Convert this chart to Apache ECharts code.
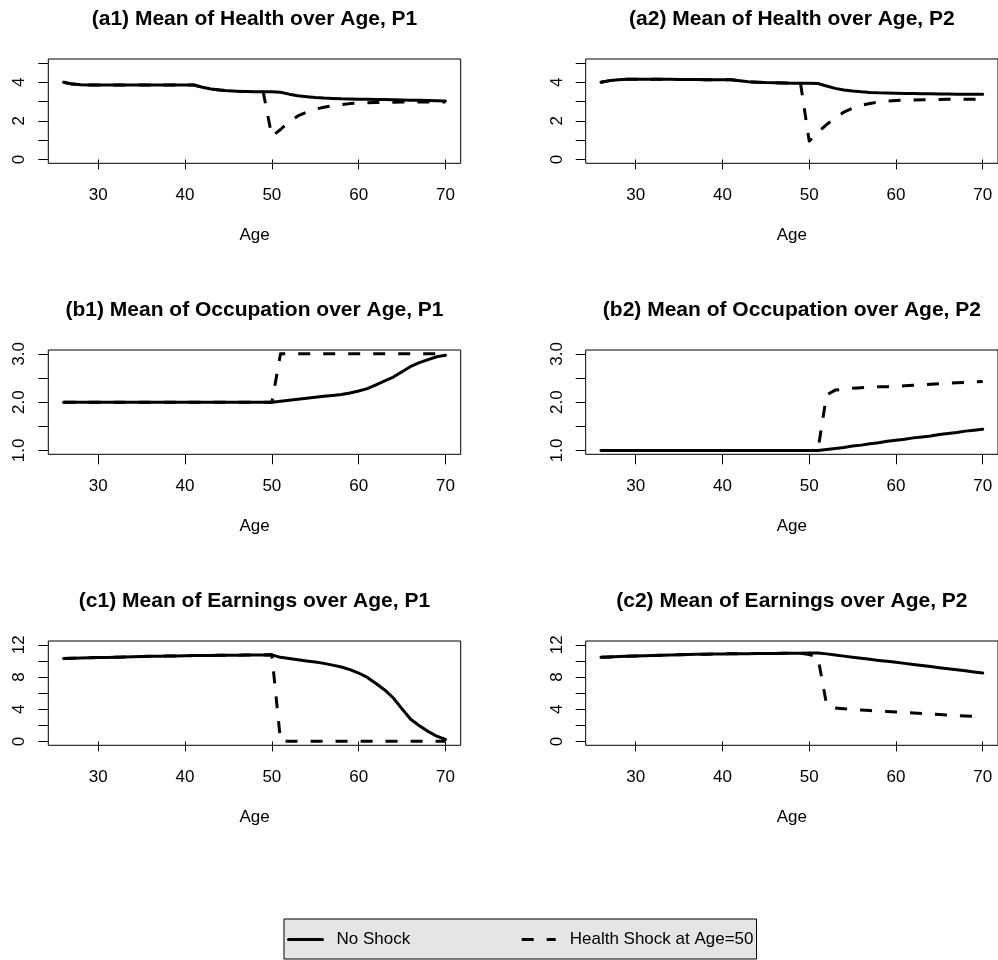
<!DOCTYPE html>
<html>
<head>
<meta charset="utf-8">
<script src="https://cdn.jsdelivr.net/npm/echarts@6/dist/echarts.min.js"></script>
<style>
  html, body { margin: 0; padding: 0; background: #fff; }
  #chart { width: 998px; height: 960px; }
</style>
</head>
<body>
<div id="chart"></div>
<script>
// Age grid shared by every panel
const ages = [26, 27, 28, 29, 30, 31, 32, 33, 34, 35, 36, 37, 38, 39, 40, 41, 42, 43, 44, 45, 46, 47, 48,
  49, 50, 51, 52, 53, 54, 55, 56, 57, 58, 59, 60, 61, 62, 63, 64, 65, 66, 67, 68, 69, 70];

// (a) Mean of health
const healthP1NoShock = [4.00, 3.90, 3.87, 3.86, 3.85, 3.85, 3.85, 3.85, 3.85, 3.85, 3.85, 3.85, 3.85, 3.85, 3.85, 3.85,
  3.74, 3.65, 3.59, 3.55, 3.53, 3.52, 3.51, 3.50, 3.50, 3.48, 3.38, 3.30, 3.25, 3.21, 3.18, 3.16, 3.14, 3.13, 3.12,
  3.11, 3.10, 3.10, 3.09, 3.08, 3.07, 3.06, 3.05, 3.04, 3.03];
const healthP1Shock = [4.00, 3.90, 3.87, 3.86, 3.85, 3.85, 3.85, 3.85, 3.85, 3.85, 3.85, 3.85, 3.85, 3.85, 3.85, 3.85,
  3.74, 3.65, 3.59, 3.55, 3.53, 3.52, 3.51, 3.50, 1.20, 1.55, 1.95, 2.25, 2.45, 2.60, 2.70, 2.78, 2.84, 2.89, 2.92,
  2.94, 2.95, 2.96, 2.96, 2.97, 2.97, 2.97, 2.98, 2.98, 2.98];
const healthP2NoShock = [4.00, 4.08, 4.13, 4.15, 4.15, 4.15, 4.15, 4.15, 4.15, 4.14, 4.14, 4.14, 4.13, 4.13, 4.13, 4.12,
  4.07, 4.02, 4.00, 3.98, 3.97, 3.96, 3.95, 3.94, 3.94, 3.93, 3.80, 3.68, 3.60, 3.54, 3.50, 3.47, 3.45, 3.44, 3.43,
  3.42, 3.41, 3.40, 3.40, 3.39, 3.39, 3.38, 3.38, 3.37, 3.37];
const healthP2Shock = [4.00, 4.08, 4.13, 4.15, 4.15, 4.15, 4.15, 4.15, 4.15, 4.14, 4.14, 4.14, 4.13, 4.13, 4.13, 4.12,
  4.07, 4.02, 4.00, 3.98, 3.97, 3.96, 3.95, 3.94, 0.95, 1.40, 1.80, 2.15, 2.45, 2.65, 2.80, 2.90, 2.97, 3.02, 3.05,
  3.07, 3.08, 3.09, 3.10, 3.10, 3.11, 3.11, 3.12, 3.12, 3.12];

// (b) Mean of occupation
const occupationP1NoShock = [2.00, 2.00, 2.00, 2.00, 2.00, 2.00, 2.00, 2.00, 2.00, 2.00, 2.00, 2.00, 2.00, 2.00, 2.00,
  2.00, 2.00, 2.00, 2.00, 2.00, 2.00, 2.00, 2.00, 2.00, 2.00, 2.02, 2.04, 2.06, 2.08, 2.10, 2.12, 2.14, 2.16, 2.19,
  2.23, 2.28, 2.36, 2.44, 2.52, 2.63, 2.74, 2.82, 2.88, 2.94, 2.97];
const occupationP1Shock = [2.00, 2.00, 2.00, 2.00, 2.00, 2.00, 2.00, 2.00, 2.00, 2.00, 2.00, 2.00, 2.00, 2.00, 2.00,
  2.00, 2.00, 2.00, 2.00, 2.00, 2.00, 2.00, 2.00, 2.00, 2.00, 3.00, 3.00, 3.00, 3.00, 3.00, 3.00, 3.00, 3.00, 3.00,
  3.00, 3.00, 3.00, 3.00, 3.00, 3.00, 3.00, 3.00, 3.00, 3.00, 3.00];
const occupationP2NoShock = [1.00, 1.00, 1.00, 1.00, 1.00, 1.00, 1.00, 1.00, 1.00, 1.00, 1.00, 1.00, 1.00, 1.00, 1.00,
  1.00, 1.00, 1.00, 1.00, 1.00, 1.00, 1.00, 1.00, 1.00, 1.00, 1.00, 1.02, 1.04, 1.06, 1.09, 1.11, 1.14, 1.16, 1.19,
  1.21, 1.23, 1.26, 1.28, 1.30, 1.33, 1.35, 1.37, 1.40, 1.42, 1.44];
const occupationP2Shock = [1.00, 1.00, 1.00, 1.00, 1.00, 1.00, 1.00, 1.00, 1.00, 1.00, 1.00, 1.00, 1.00, 1.00, 1.00,
  1.00, 1.00, 1.00, 1.00, 1.00, 1.00, 1.00, 1.00, 1.00, 1.00, 1.00, 2.15, 2.25, 2.27, 2.29, 2.30, 2.31, 2.32, 2.32,
  2.33, 2.34, 2.35, 2.36, 2.37, 2.38, 2.39, 2.40, 2.41, 2.42, 2.43];

// (c) Mean of earnings
const earningsP1NoShock = [10.30, 10.33, 10.36, 10.39, 10.42, 10.44, 10.47, 10.50, 10.52, 10.55, 10.57, 10.59, 10.61,
  10.63, 10.65, 10.67, 10.68, 10.69, 10.70, 10.71, 10.72, 10.73, 10.74, 10.75, 10.76, 10.45, 10.30, 10.15, 10.00,
  9.87, 9.70, 9.48, 9.25, 8.92, 8.50, 7.95, 7.20, 6.40, 5.40, 4.05, 2.75, 1.95, 1.25, 0.65, 0.25];
const earningsP1Shock = [10.30, 10.33, 10.36, 10.39, 10.42, 10.44, 10.47, 10.50, 10.52, 10.55, 10.57, 10.59, 10.61,
  10.63, 10.65, 10.67, 10.68, 10.69, 10.70, 10.71, 10.72, 10.73, 10.74, 10.75, 10.76, 0.05, 0.03, 0.03, 0.03,
  0.03, 0.03, 0.03, 0.03, 0.03, 0.03, 0.03, 0.03, 0.03, 0.03, 0.03, 0.03, 0.03, 0.03, 0.03, 0.03];
const earningsP2NoShock = [10.45, 10.50, 10.54, 10.58, 10.62, 10.66, 10.69, 10.72, 10.75, 10.78, 10.80, 10.82, 10.84,
  10.86, 10.88, 10.89, 10.90, 10.91, 10.92, 10.93, 10.94, 10.95, 10.96, 10.97, 10.98, 11.00, 10.88, 10.74, 10.60,
  10.46, 10.33, 10.20, 10.07, 9.95, 9.83, 9.70, 9.57, 9.44, 9.30, 9.17, 9.03, 8.90, 8.77, 8.63, 8.50];
const earningsP2Shock = [10.45, 10.50, 10.54, 10.58, 10.62, 10.66, 10.69, 10.72, 10.75, 10.78, 10.80, 10.82, 10.84,
  10.86, 10.88, 10.89, 10.90, 10.91, 10.92, 10.93, 10.94, 10.95, 10.96, 10.97, 10.80, 10.50, 4.60, 4.15, 4.05,
  3.97, 3.90, 3.84, 3.78, 3.72, 3.66, 3.60, 3.53, 3.47, 3.40, 3.34, 3.28, 3.22, 3.16, 3.10, 3.05];

// Tick positions and labelled values
const ageTicks = [30, 40, 50, 60, 70];
const healthTicks = [0, 1, 2, 3, 4, 5];
const healthLabels = [0, 2, 4];
const occupationTicks = [1.0, 1.5, 2.0, 2.5, 3.0];
const occupationLabels = [1.0, 2.0, 3.0];
const earningsTicks = [0, 2, 4, 6, 8, 10, 12];
const earningsLabels = [0, 4, 8, 12];

const seriesNames = ['No Shock', 'Health Shock at Age=50'];
const panelTitles = [
  '(a1) Mean of Health over Age, P1', '(a2) Mean of Health over Age, P2',
  '(b1) Mean of Occupation over Age, P1', '(b2) Mean of Occupation over Age, P2',
  '(c1) Mean of Earnings over Age, P1', '(c2) Mean of Earnings over Age, P2'
];

const FONT = '"Liberation Sans", Arial, Helvetica, sans-serif';

const yScales = {
  health: { min: -0.2, max: 5.2, ticks: healthTicks, labels: healthLabels, fmt: v => String(v) },
  occupation: { min: 0.92, max: 3.08, ticks: occupationTicks, labels: occupationLabels, fmt: v => Number(v).toFixed(1) },
  earnings: { min: -0.48, max: 12.48, ticks: earningsTicks, labels: earningsLabels, fmt: v => String(v) }
};

const panels = [
  { base: healthP1NoShock, shock: healthP1Shock, scale: 'health' },
  { base: healthP2NoShock, shock: healthP2Shock, scale: 'health' },
  { base: occupationP1NoShock, shock: occupationP1Shock, scale: 'occupation' },
  { base: occupationP2NoShock, shock: occupationP2Shock, scale: 'occupation' },
  { base: earningsP1NoShock, shock: earningsP1Shock, scale: 'earnings' },
  { base: earningsP2NoShock, shock: earningsP2Shock, scale: 'earnings' }
];

// Layout of the 3 x 2 panel matrix (plot boxes, in px)
const colLeft = [48.3, 585.7];
const boxWidth = 412.4;
const rowTop = [59, 350, 641];
const boxHeight = 104.3;
const titleY = [19.5, 310.5, 601];

const grids = [], xAxes = [], yAxes = [], series = [], graphics = [];

panels.forEach((p, i) => {
  const row = Math.floor(i / 2), col = i % 2;
  const sc = yScales[p.scale];
  grids.push({
    left: colLeft[col], top: rowTop[row], width: boxWidth, height: boxHeight,
    show: true, borderColor: '#000', borderWidth: 1, backgroundColor: 'transparent'
  });
  xAxes.push({
    type: 'value', gridIndex: i, min: 24.24, max: 71.76,
    name: 'Age', nameLocation: 'middle', nameGap: 64,
    nameTextStyle: { fontFamily: FONT, fontSize: 17, color: '#000' },
    axisLine: { show: false },
    splitLine: { show: false },
    axisTick: { show: true, inside: false, length: 10, customValues: ageTicks, lineStyle: { color: '#000', width: 1 } },
    axisLabel: { show: true, margin: 24, customValues: ageTicks, fontFamily: FONT, fontSize: 17, color: '#000' }
  });
  yAxes.push({
    type: 'value', gridIndex: i, min: sc.min, max: sc.max,
    axisLine: { show: false },
    splitLine: { show: false },
    axisTick: { show: true, inside: false, length: 10, customValues: sc.ticks, lineStyle: { color: '#000', width: 1 } },
    axisLabel: {
      show: true, rotate: 90, margin: 20, customValues: sc.labels, formatter: sc.fmt,
      fontFamily: FONT, fontSize: 17, color: '#000'
    }
  });
  series.push({
    name: seriesNames[0], type: 'line', xAxisIndex: i, yAxisIndex: i,
    data: ages.map((a, k) => [a, p.base[k]]),
    symbol: 'none', showSymbol: false, animation: false, z: 2,
    lineStyle: { color: '#000', width: 3, type: 'solid', join: 'round', cap: 'round' },
    itemStyle: { color: '#000' }
  });
  series.push({
    name: seriesNames[1], type: 'line', xAxisIndex: i, yAxisIndex: i,
    data: ages.map((a, k) => [a, p.shock[k]]),
    symbol: 'none', showSymbol: false, animation: false, z: 3,
    lineStyle: { color: '#000', width: 3, type: [12, 13], join: 'round', cap: 'butt' },
    itemStyle: { color: '#000' }
  });
  graphics.push({
    type: 'text', x: colLeft[col] + boxWidth / 2, y: titleY[row],
    style: {
      text: panelTitles[i], textAlign: 'center', textVerticalAlign: 'middle',
      fontFamily: FONT, fontSize: 21, fontWeight: 'bold', fill: '#000'
    }
  });
});

const chart = echarts.init(document.getElementById('chart'), null, { renderer: 'canvas' });
chart.setOption({
  animation: false,
  backgroundColor: '#fff',
  grid: grids,
  xAxis: xAxes,
  yAxis: yAxes,
  series: series,
  graphic: graphics,
  legend: {
    left: 284, top: 919, orient: 'horizontal',
    data: seriesNames,
    selectedMode: false,
    backgroundColor: '#e5e5e5', borderColor: '#000', borderWidth: 1, borderRadius: 0,
    padding: [12, 3, 11, 3],
    itemWidth: 34, itemHeight: 14, itemGap: 110,
    itemStyle: { opacity: 0 },
    lineStyle: { width: 3, color: '#000' },
    textStyle: { fontFamily: FONT, fontSize: 17, color: '#000', padding: [0, 0, 0, 9] }
  }
});
</script>
</body>
</html>
